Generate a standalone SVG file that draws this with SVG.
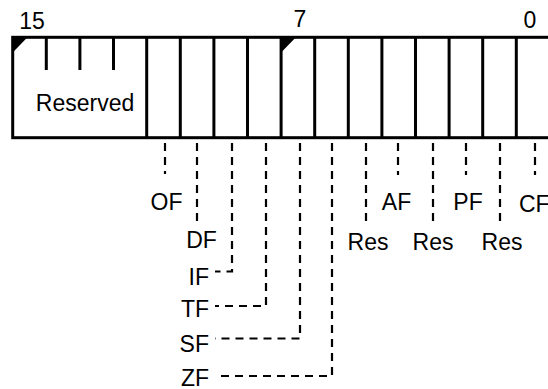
<svg xmlns="http://www.w3.org/2000/svg" width="548" height="389" viewBox="0 0 548 389">
<style>
.t{font-family:"Liberation Sans",Arial,sans-serif;font-size:23px;fill:#000}
.m{text-anchor:middle}
.e{text-anchor:end}
.b{stroke:#000;stroke-width:3;fill:none}
.d{stroke:#000;stroke-width:2.2;fill:none;stroke-dasharray:8,6}
</style>
<rect width="548" height="389" fill="#fff"/>
<g id="register">
<rect class="b" x="12.7" y="37.3" width="537.6" height="100.4"/>
<path class="b" d="M46.3 37.3V70M79.9 37.3V70M113.5 37.3V70"/>
<path class="b" d="M146.7 37.3V137.7M180.3 37.3V137.7M213.9 37.3V137.7M247.5 37.3V137.7M281.1 37.3V137.7M314.7 37.3V137.7M348.3 37.3V137.7M381.9 37.3V137.7M415.5 37.3V137.7M449.1 37.3V137.7M482.7 37.3V137.7M516.3 37.3V137.7"/>
<path d="M12.7 37.3H27.5L12.7 52.5Z M281.1 37.3H295.9L281.1 52.5Z" fill="#000"/>
<text class="t m" x="32" y="29">15</text>
<text class="t m" x="300" y="27">7</text>
<text class="t m" x="530" y="28">0</text>
<text class="t m" x="85" y="111">Reserved</text>
</g>
<g id="connectors">
<path class="d" d="M165 143V174"/>
<path class="d" d="M197 143V224"/>
<path class="d" d="M232 143V271.5H215"/>
<path class="d" d="M266 143V306H215"/>
<path class="d" d="M300 143V338.5H215"/>
<path class="d" d="M332 143V376H215"/>
<path class="d" d="M366 143V226"/>
<path class="d" d="M398 143V175"/>
<path class="d" d="M433 143V226"/>
<path class="d" d="M466 143V175"/>
<path class="d" d="M500 143V226"/>
<path class="d" d="M535 143V175"/>
</g>
<g id="OF"><text class="t m" x="166.5" y="210">OF</text></g>
<g id="DF"><text class="t m" x="201.5" y="248">DF</text></g>
<g id="IF"><text class="t e" x="209" y="285">IF</text></g>
<g id="TF"><text class="t e" x="209" y="317">TF</text></g>
<g id="SF"><text class="t e" x="209" y="352">SF</text></g>
<g id="ZF"><text class="t e" x="209" y="386">ZF</text></g>
<g id="Res5"><text class="t m" x="368" y="250">Res</text></g>
<g id="AF"><text class="t m" x="396.5" y="210">AF</text></g>
<g id="Res3"><text class="t m" x="433" y="250">Res</text></g>
<g id="PF"><text class="t m" x="468" y="210">PF</text></g>
<g id="Res1"><text class="t m" x="502" y="250">Res</text></g>
<g id="CF"><text class="t" x="519" y="212">CF</text></g>
</svg>
